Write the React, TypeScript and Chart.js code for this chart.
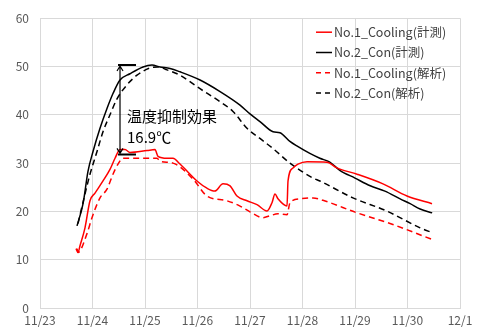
import React, { useEffect, useRef } from "react";
import { Chart, registerables } from "chart.js";

Chart.register(...registerables);

// x values: days since 11/23 00:00
const xTickLabels = ["11/23", "11/24", "11/25", "11/26", "11/27", "11/28", "11/29", "11/30", "12/1"];
const yTicks = [0, 10, 20, 30, 40, 50, 60];

const seriesNames = ["No.1_Cooling(計測)", "No.2_Con(計測)", "No.1_Cooling(解析)", "No.2_Con(解析)"];

const coolMeasX = [0.686, 0.724, 0.762, 0.857, 0.952, 1.048, 1.2, 1.333, 1.429, 1.524, 1.619, 1.714, 2.038, 2.19, 2.248, 2.42, 2.533, 2.667, 2.99, 3.18, 3.33, 3.486, 3.62, 3.752, 3.943, 4.133, 4.324, 4.419, 4.476, 4.533, 4.705, 4.724, 4.819, 4.914, 5.086, 5.467, 5.657, 6.04, 6.533, 6.99, 7.467];
const coolMeasY = [12.3, 11.5, 12.9, 16.6, 22.2, 23.8, 26.3, 28.7, 31.0, 32.8, 32.8, 32.2, 32.6, 32.8, 31.4, 31.0, 31.0, 29.8, 26.3, 24.8, 24.2, 25.7, 25.3, 23.2, 22.2, 21.4, 20.1, 21.8, 23.6, 22.6, 21.1, 26.3, 29.0, 29.8, 30.3, 30.2, 29.0, 27.7, 25.7, 23.2, 21.6];

const conMeasX = [0.705, 0.82, 0.914, 1.01, 1.143, 1.276, 1.39, 1.524, 1.714, 1.962, 2.133, 2.286, 2.476, 2.667, 3.048, 3.43, 3.81, 4.0, 4.19, 4.44, 4.57, 4.76, 4.9, 5.14, 5.33, 5.52, 5.71, 6.0, 6.29, 6.57, 6.86, 7.05, 7.24, 7.47];
const conMeasY = [17.0, 21.6, 28.3, 32.4, 37.2, 41.3, 44.4, 47.2, 48.5, 49.9, 50.3, 49.9, 49.6, 48.9, 47.2, 44.8, 42.0, 40.2, 38.6, 36.5, 36.3, 34.5, 33.5, 32.0, 31.0, 30.2, 28.5, 26.9, 25.3, 24.2, 22.6, 21.6, 20.5, 19.7];

const coolSimX = [0.705, 0.724, 0.895, 0.99, 1.143, 1.276, 1.39, 1.486, 1.581, 2.229, 2.286, 2.533, 2.914, 3.18, 3.562, 3.81, 4.0, 4.248, 4.38, 4.533, 4.705, 4.762, 4.952, 5.2, 5.39, 6.04, 6.667, 7.467];
const coolSimY = [12.3, 11.5, 15.4, 18.7, 22.8, 24.6, 27.7, 29.8, 31.0, 31.0, 30.4, 30.0, 26.7, 23.2, 22.2, 21.1, 19.9, 18.7, 19.1, 19.5, 19.3, 21.8, 22.6, 22.8, 22.3, 19.7, 17.5, 14.2];

const conSimX = [0.724, 0.857, 0.952, 1.086, 1.2, 1.333, 1.467, 1.657, 1.848, 2.095, 2.248, 2.42, 2.667, 3.048, 3.43, 3.676, 3.943, 4.19, 4.44, 4.76, 5.2, 5.33, 5.96, 6.6, 7.24, 7.47];
const conSimY = [17.5, 23.6, 27.7, 32.4, 36.5, 40.0, 43.3, 46.2, 48.2, 49.7, 49.9, 49.3, 48.2, 45.4, 42.7, 40.7, 37.2, 35.1, 33.0, 30.0, 26.9, 26.3, 22.8, 20.1, 16.6, 15.6];

// annotation values (data space)
const effectX = 1.524;
const effectTop = 50.3;
const effectBottom = 31.8;
const effectLabel1 = "温度抑制効果";
const effectLabel2 = "16.9℃";

const colors = ["#ff0000", "#000000", "#ff0000", "#000000"];
const dashes: number[][] = [[], [], [6, 4], [6, 4]];

const FONT = '"Noto Sans CJK JP", "Noto Sans", sans-serif';

const toPts = (xs: number[], ys: number[]) => xs.map((x, i) => ({ x, y: ys[i] }));

const overlayPlugin = {
  id: "overlay",
  afterDatasetsDraw(chart: any) {
    const ctx = chart.ctx as CanvasRenderingContext2D;
    const xs = chart.scales.x;
    const ys = chart.scales.y;
    const area = chart.chartArea;
    ctx.save();
    // annotation arrow
    const ax = xs.getPixelForValue(effectX);
    const yt = ys.getPixelForValue(effectTop);
    const yb = ys.getPixelForValue(effectBottom);
    ctx.strokeStyle = "#000";
    ctx.lineWidth = 2;
    ctx.beginPath();
    ctx.moveTo(ax - 2, yt);
    ctx.lineTo(ax + 16, yt);
    ctx.moveTo(ax - 2, yb);
    ctx.lineTo(ax + 16, yb);
    ctx.stroke();
    ctx.lineWidth = 1.2;
    ctx.beginPath();
    ctx.moveTo(ax, yt + 1);
    ctx.lineTo(ax, yb - 1);
    ctx.moveTo(ax - 3, yt + 6);
    ctx.lineTo(ax, yt + 1);
    ctx.lineTo(ax + 3, yt + 6);
    ctx.moveTo(ax - 3, yb - 6);
    ctx.lineTo(ax, yb - 1);
    ctx.lineTo(ax + 3, yb - 6);
    ctx.stroke();
    ctx.fillStyle = "#000";
    ctx.font = "15px " + FONT;
    ctx.textAlign = "left";
    ctx.textBaseline = "middle";
    ctx.fillText(effectLabel1, ax + 7, ys.getPixelForValue(39.6));
    ctx.fillText(effectLabel2, ax + 7, ys.getPixelForValue(35.3));

    // legend
    const lx = area.right - 144;
    ctx.font = "12.5px " + FONT;
    for (let i = 0; i < seriesNames.length; i++) {
      const ly = area.top + 14 + i * 20.3;
      ctx.strokeStyle = colors[i];
      ctx.lineWidth = 1.5;
      ctx.setLineDash(dashes[i].length ? [5, 4] : []);
      ctx.beginPath();
      ctx.moveTo(lx, ly);
      ctx.lineTo(lx + 16, ly);
      ctx.stroke();
      ctx.setLineDash([]);
      ctx.fillStyle = "#404040";
      ctx.fillText(seriesNames[i], lx + 18, ly);
    }
    ctx.restore();
  },
};

export default function App() {
  const ref = useRef<HTMLCanvasElement | null>(null);
  useEffect(() => {
    document.body.style.margin = "0";
    if (!ref.current) return;
    const datasets = [
      toPts(coolMeasX, coolMeasY),
      toPts(conMeasX, conMeasY),
      toPts(coolSimX, coolSimY),
      toPts(conSimX, conSimY),
    ].map((d, i) => ({
      label: seriesNames[i],
      data: d,
      borderColor: colors[i],
      backgroundColor: colors[i],
      borderWidth: 1.5,
      borderDash: dashes[i],
      pointRadius: 0,
      cubicInterpolationMode: "monotone" as const,
      fill: false,
    }));
    const chart = new Chart(ref.current, {
      type: "line",
      data: { datasets },
      options: {
        responsive: false,
        animation: false,
        devicePixelRatio: 1,
        layout: { padding: { top: 16, right: 28, left: 0, bottom: 0 } },
        plugins: { legend: { display: false }, tooltip: { enabled: false } },
        scales: {
          x: {
            type: "linear",
            min: 0,
            max: 8,
            afterFit: (s: any) => { s.height = 21; },
            afterBuildTicks: (s: any) => { s.ticks = xTickLabels.map((_, i) => ({ value: i })); },
            ticks: {
              stepSize: 1,
              padding: 5,
              maxRotation: 0,
              autoSkip: false,
              color: "#595959",
              font: { family: FONT, size: 12 },
              callback: (v: any) => xTickLabels[Math.round(Number(v))] ?? "",
            },
            grid: { color: "#d9d9d9", drawTicks: false, lineWidth: 1 },
            border: { color: "#d9d9d9" },
          },
          y: {
            type: "linear",
            min: 0,
            max: 60,
            afterFit: (s: any) => { s.width = 40; },
            afterBuildTicks: (s: any) => { s.ticks = yTicks.map((v) => ({ value: v })); },
            ticks: {
              stepSize: 10,
              padding: 11,
              color: "#595959",
              font: { family: FONT, size: 12 },
            },
            grid: { color: "#d9d9d9", drawTicks: false, lineWidth: 1 },
            border: { color: "#d9d9d9" },
          },
        },
      },
      plugins: [overlayPlugin],
    });
    return () => chart.destroy();
  }, []);
  return <canvas ref={ref} width={488} height={329} style={{ display: "block" }} />;
}
